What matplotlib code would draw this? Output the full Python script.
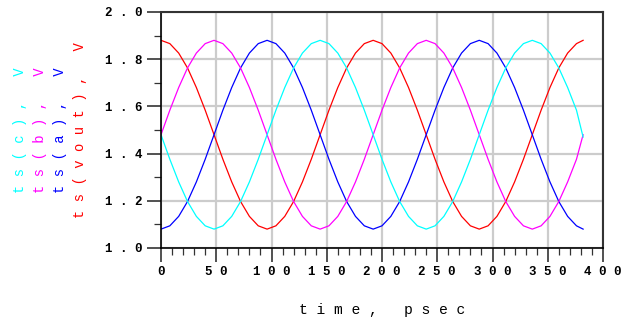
import matplotlib
matplotlib.use("Agg")
import matplotlib.pyplot as plt
from matplotlib.ticker import MultipleLocator

# time axis, psec
time_ps = [0, 8, 16, 24, 32, 40, 48, 56, 64, 72, 80, 88, 96, 104, 112, 120,
           128, 136, 144, 152, 160, 168, 176, 184, 192, 200, 208, 216, 224,
           232, 240, 248, 256, 264, 272, 280, 288, 296, 304, 312, 320, 328,
           336, 344, 352, 360, 368, 376, 382]

# tensions, V
ts_vout = [1.880, 1.866, 1.826, 1.763, 1.680, 1.584, 1.480, 1.376, 1.280, 1.197,
           1.134, 1.094, 1.080, 1.094, 1.134, 1.197, 1.280, 1.376, 1.480, 1.584,
           1.680, 1.763, 1.826, 1.866, 1.880, 1.866, 1.826, 1.763, 1.680, 1.584,
           1.480, 1.376, 1.280, 1.197, 1.134, 1.094, 1.080, 1.094, 1.134, 1.197,
           1.280, 1.376, 1.480, 1.584, 1.680, 1.763, 1.826, 1.866, 1.880]
ts_a = [1.080, 1.094, 1.134, 1.197, 1.280, 1.376, 1.480, 1.584, 1.680, 1.763,
        1.826, 1.866, 1.880, 1.866, 1.826, 1.763, 1.680, 1.584, 1.480, 1.376,
        1.280, 1.197, 1.134, 1.094, 1.080, 1.094, 1.134, 1.197, 1.280, 1.376,
        1.480, 1.584, 1.680, 1.763, 1.826, 1.866, 1.880, 1.866, 1.826, 1.763,
        1.680, 1.584, 1.480, 1.376, 1.280, 1.197, 1.134, 1.094, 1.080]
ts_b = [1.480, 1.584, 1.680, 1.763, 1.826, 1.866, 1.880, 1.866, 1.826, 1.763,
        1.680, 1.584, 1.480, 1.376, 1.280, 1.197, 1.134, 1.094, 1.080, 1.094,
        1.134, 1.197, 1.280, 1.376, 1.480, 1.584, 1.680, 1.763, 1.826, 1.866,
        1.880, 1.866, 1.826, 1.763, 1.680, 1.584, 1.480, 1.376, 1.280, 1.197,
        1.134, 1.094, 1.080, 1.094, 1.134, 1.197, 1.280, 1.376, 1.480]
ts_c = [1.480, 1.376, 1.280, 1.197, 1.134, 1.094, 1.080, 1.094, 1.134, 1.197,
        1.280, 1.376, 1.480, 1.584, 1.680, 1.763, 1.826, 1.866, 1.880, 1.866,
        1.826, 1.763, 1.680, 1.584, 1.480, 1.376, 1.280, 1.197, 1.134, 1.094,
        1.080, 1.094, 1.134, 1.197, 1.280, 1.376, 1.480, 1.584, 1.680, 1.763,
        1.826, 1.866, 1.880, 1.866, 1.826, 1.763, 1.680, 1.584, 1.470]

x_ticks = [0, 50, 100, 150, 200, 250, 300, 350, 400]
y_ticks = [1.0, 1.2, 1.4, 1.6, 1.8, 2.0]


def espacer(texte):
    """Insere un espace entre chaque caractere."""
    return " ".join(texte)


fig = plt.figure(figsize=(6.34, 3.27), dpi=100)
ax = fig.add_axes([161 / 634, 1 - 248 / 327, 442 / 634, 236 / 327])

ax.plot(time_ps, ts_vout, color="#ff0000", lw=0.9)
ax.plot(time_ps, ts_a, color="#0000ff", lw=0.9)
ax.plot(time_ps, ts_b, color="#ff00ff", lw=0.9)
ax.plot(time_ps, ts_c, color="#00ffff", lw=0.9)

ax.set_xlim(0, 400)
ax.set_ylim(1.0, 2.0)
ax.set_xticks(x_ticks)
ax.set_yticks(y_ticks)
ax.xaxis.set_minor_locator(MultipleLocator(10))
ax.yaxis.set_minor_locator(MultipleLocator(0.1))

mono = "Liberation Mono"
ax.set_xticklabels([espacer(str(v)) for v in x_ticks], family=mono,
                   fontweight="bold", fontsize=9)
ax.set_yticklabels([espacer(f"{v:.1f}") for v in y_ticks], family=mono,
                   fontweight="bold", fontsize=9)

ax.tick_params(which="major", direction="out", length=10, width=1.2,
               color="#333333", pad=3)
ax.tick_params(which="minor", direction="out", length=5, width=0.9,
               color="#333333")

ax.grid(True, which="major", color="#cccccc", lw=1.6)
ax.set_axisbelow(True)

for cote in ["left", "bottom"]:
    ax.spines[cote].set_color("black")
    ax.spines[cote].set_linewidth(1.2)
for cote in ["top", "right"]:
    ax.spines[cote].set_color("#333333")
    ax.spines[cote].set_linewidth(1.5)

# libelles de l'axe y, empiles cote a cote
etiquettes = [("ts(c), V", "#00ffff", 20), ("ts(b), V", "#ff00ff", 40),
              ("ts(a), V", "#0000ff", 60), ("ts(vout), V", "#ff0000", 80)]
for texte, couleur, xpix in etiquettes:
    fig.text(xpix / 634, 1 - 130 / 327, espacer(texte), color=couleur,
             family=mono, fontsize=10, rotation=90, ha="center", va="center")

fig.text(382 / 634, 1 - 310 / 327, espacer("time, psec"), family=mono,
         fontsize=10.5, ha="center", va="center")

fig.savefig("out.png", dpi=100)
